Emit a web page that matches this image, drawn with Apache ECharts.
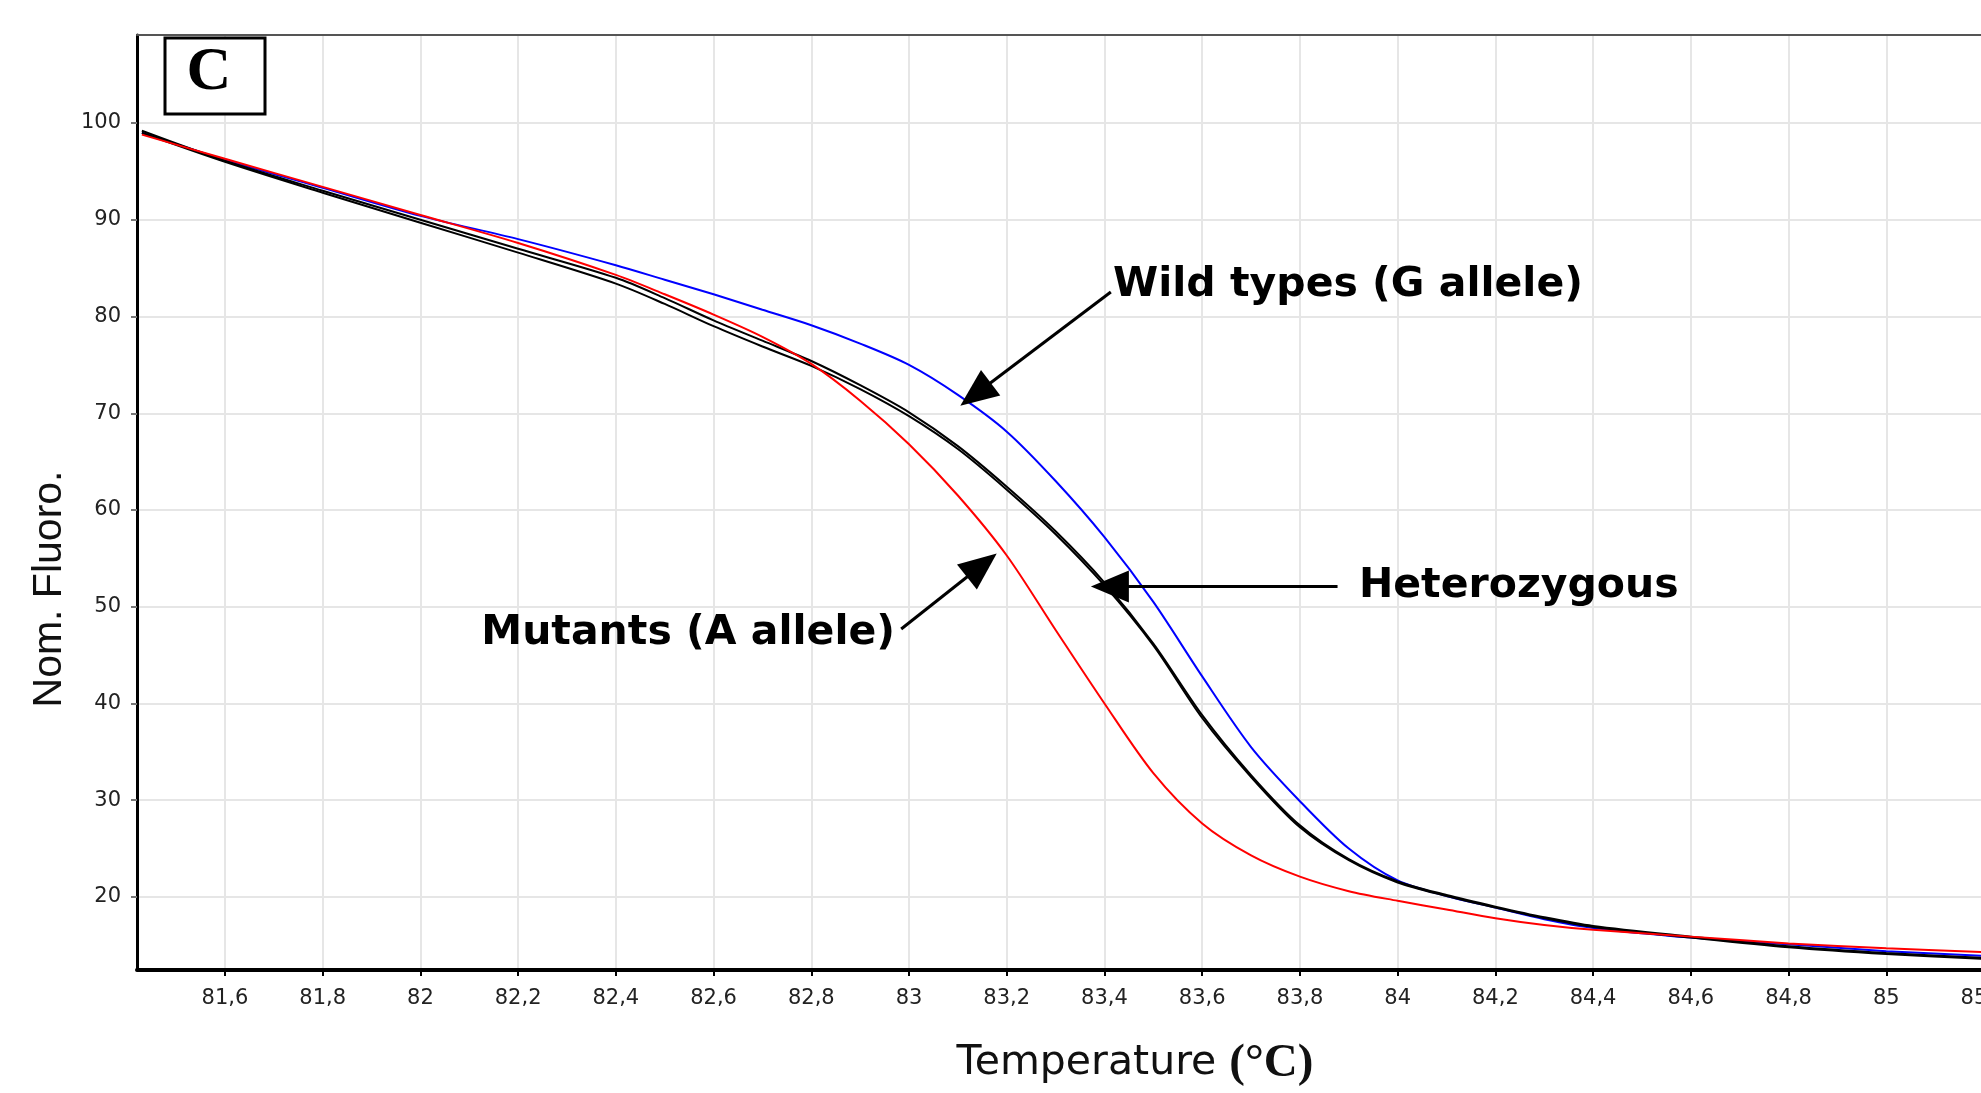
<!DOCTYPE html>
<html>
<head>
<meta charset="utf-8">
<title>Melting curves</title>
<script src="https://cdn.jsdelivr.net/npm/echarts@6.0.0/dist/echarts.min.js"></script>
<style>
  html, body { margin: 0; padding: 0; background: #fff; }
  #chart { width: 1981px; height: 1093px; }
</style>
</head>
<body>
<div id="chart"></div>
<script>
// temperature (°C), shared by every curve
var temps = [81.43, 81.6, 81.8, 82.0, 82.2, 82.4, 82.5, 82.6, 82.7, 82.8, 82.9, 83.0, 83.1, 83.2, 83.3,
  83.4, 83.5, 83.6, 83.7, 83.8, 83.9, 84.0, 84.1, 84.2, 84.3, 84.4, 84.6, 84.8, 85.0, 85.2];

// normalised fluorescence
var wildType = [99.0, 96.2, 93.3, 90.4, 88.0, 85.3, 83.8, 82.3, 80.7, 79.1, 77.2, 75.0, 71.9, 68.1, 63.0,
  57.2, 50.5, 42.8, 35.5, 29.9, 25.0, 21.7, 20.1, 18.9, 17.7, 16.8, 15.8, 15.1, 14.4, 13.9];
var heteroA = [99.2, 96.1, 93.0, 90.0, 87.0, 84.0, 81.9, 79.6, 77.5, 75.4, 72.9, 70.1, 66.6, 62.4, 57.8,
  52.5, 46.2, 38.8, 32.6, 27.4, 23.9, 21.6, 20.2, 19.0, 17.9, 17.0, 15.9, 14.9, 14.2, 13.7];
var heteroB = [99.0, 96.0, 92.8, 89.7, 86.6, 83.4, 81.3, 79.0, 76.9, 74.9, 72.5, 69.7, 66.3, 62.1, 57.5,
  52.2, 46.0, 38.5, 32.4, 27.2, 23.8, 21.5, 20.1, 18.9, 17.8, 16.9, 15.8, 14.8, 14.1, 13.6];
var mutant = [98.8, 96.3, 93.4, 90.5, 87.6, 84.3, 82.3, 80.2, 77.9, 75.1, 71.3, 66.8, 61.5, 55.3, 47.6,
  40.0, 32.8, 27.6, 24.3, 22.1, 20.6, 19.6, 18.7, 17.8, 17.1, 16.6, 15.9, 15.2, 14.7, 14.3];

var xTicks = [81.6, 81.8, 82, 82.2, 82.4, 82.6, 82.8, 83, 83.2, 83.4, 83.6, 83.8, 84, 84.2, 84.4, 84.6, 84.8, 85, 85.2];
var yTicks = [20, 30, 40, 50, 60, 70, 80, 90, 100];

// arrows: [tail, arrow-head centre] in data coordinates
var arrows = [
  [[83.413, 82.53], [83.136, 71.97]],
  [[83.877, 52.1], [83.411, 52.1]],
  [[82.984, 47.7], [83.149, 54.29]]
];

function pairs(ys) {
  var out = [];
  for (var i = 0; i < temps.length; i++) {
    out.push([temps[i], ys[i]]);
  }
  return out;
}

function curve(name, ys, color) {
  return {
    name: name,
    type: 'line',
    data: pairs(ys),
    showSymbol: false,
    smooth: 0.3,
    lineStyle: { color: color, width: 2 },
    itemStyle: { color: color },
    z: 3
  };
}

var tickFont = { fontFamily: 'DejaVu Sans', fontSize: 21, color: '#222' };
var noteFont = 'bold 41px "DejaVu Sans"';

var chart = echarts.init(document.getElementById('chart'), null, { renderer: 'canvas' });

var series = [
  curve('Wild types', wildType, '#0000ff'),
  curve('Heterozygous 1', heteroA, '#000000'),
  curve('Heterozygous 2', heteroB, '#000000'),
  curve('Mutants', mutant, '#ff0000')
];

series[3].markLine = {
  silent: true,
  animation: false,
  symbol: ['none', 'triangle'],
  symbolSize: [32, 38],
  label: { show: false },
  lineStyle: { color: '#000', width: 3, type: 'solid' },
  data: arrows.map(function (a) {
    return [{ coord: a[0] }, { coord: a[1] }];
  })
};

chart.setOption({
  animation: false,
  backgroundColor: '#fff',
  grid: { left: 137, right: -3, top: 35, bottom: 123, outerBoundsMode: 'none' },
  xAxis: [{
    type: 'value',
    min: 81.42,
    max: 85.2,
    name: '{t|Temperature }{u|(°C)}',
    nameLocation: 'middle',
    nameGap: 70,
    nameTextStyle: {
      padding: [0, 0, 0, 149],
      rich: {
        t: { fontFamily: 'DejaVu Sans', fontSize: 41, color: '#111' },
        u: { fontFamily: 'Liberation Serif', fontWeight: 'bold', fontSize: 47, color: '#111' }
      }
    },
    axisLine: { lineStyle: { color: '#000', width: 4 } },
    axisTick: { customValues: xTicks, length: 6, lineStyle: { color: '#000', width: 2 } },
    axisLabel: {
      customValues: xTicks,
      margin: 18,
      fontFamily: tickFont.fontFamily,
      fontSize: tickFont.fontSize,
      color: tickFont.color,
      formatter: function (v) {
        return String(v).replace('.', ',');
      }
    },
    splitLine: { show: true, lineStyle: { color: '#e6e6e6', width: 2 } }
  }, {
    // grey frame line along the top
    type: 'value',
    position: 'top',
    min: 81.42,
    max: 85.2,
    axisLine: { lineStyle: { color: '#555', width: 2 } },
    axisTick: { show: false },
    axisLabel: { show: false },
    splitLine: { show: false }
  }],
  yAxis: {
    type: 'value',
    min: 12.45,
    max: 109.1,
    name: 'Nom. Fluoro.',
    nameLocation: 'middle',
    nameRotate: 90,
    nameGap: 66,
    nameTextStyle: {
      fontFamily: 'Liberation Sans',
      fontSize: 41,
      color: '#111',
      padding: [0, 173, 0, 0]
    },
    axisLine: { show: true, lineStyle: { color: '#000', width: 3 } },
    axisTick: { show: true, customValues: yTicks, length: 6, lineStyle: { color: '#777', width: 2 } },
    axisLabel: {
      customValues: yTicks,
      margin: 16,
      fontFamily: tickFont.fontFamily,
      fontSize: tickFont.fontSize,
      color: tickFont.color
    },
    splitLine: { show: true, lineStyle: { color: '#e6e6e6', width: 2 } }
  },
  series: series,
  graphic: [
    {
      type: 'rect',
      shape: { x: 165, y: 38, width: 100, height: 76 },
      style: { fill: '#fff', stroke: '#000', lineWidth: 3 },
      z: 10
    },
    {
      type: 'text',
      x: 209, y: 73,
      style: { text: 'C', font: 'bold 62px "Liberation Serif"', fill: '#000', align: 'center', verticalAlign: 'middle' },
      z: 11
    },
    {
      type: 'text',
      x: 1113, y: 285,
      style: { text: 'Wild types (G allele)', font: noteFont, fill: '#000', align: 'left', verticalAlign: 'middle' },
      z: 11
    },
    {
      type: 'text',
      x: 1359, y: 586,
      style: { text: 'Heterozygous', font: noteFont, fill: '#000', align: 'left', verticalAlign: 'middle' },
      z: 11
    },
    {
      type: 'text',
      x: 895, y: 633,
      style: { text: 'Mutants (A allele)', font: noteFont, fill: '#000', align: 'right', verticalAlign: 'middle' },
      z: 11
    }
  ]
});
</script>
</body>
</html>
